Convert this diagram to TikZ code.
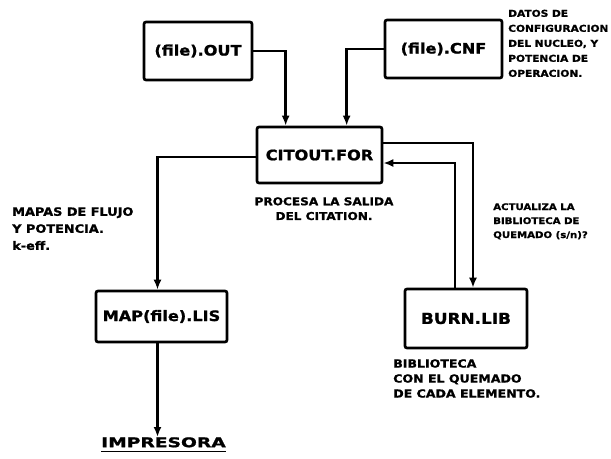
\documentclass[tikz,border=0pt]{standalone}
\usepackage{fontspec}
\setmainfont{DejaVu Sans}[FakeStretch=1.12,BoldFeatures={FakeBold=1.2}]
\usetikzlibrary{arrows.meta,calc}
\begin{document}
\begin{tikzpicture}[x=0.75pt,y=-0.75pt,
  box/.style={draw,line width=2pt,rounded corners=1.5pt,inner sep=0pt,font=\bfseries\fontsize{10.8}{13}\selectfont},
  conn/.style={line width=2pt},
  arr/.style={conn,-{Latex[length=7.5pt,width=6pt]}},
  note/.style={align=left,anchor=north west,inner sep=0pt}]
\useasboundingbox (0,0) rectangle (611,458);
% boxes
\node[box,minimum width=81pt,minimum height=43.5pt] (out) at (198,51) {(file).OUT};
\node[box,minimum width=87.75pt,minimum height=43.5pt] (cnf) at (443.5,49) {(file).CNF};
\node[box,minimum width=93.75pt,minimum height=42pt] (citout) at (319.5,155) {CITOUT.FOR};
\node[box,minimum width=98.25pt,minimum height=38.25pt] (map) at (161.5,316.5) {MAP(file).LIS};
\node[box,minimum width=91.5pt,minimum height=44.25pt,font=\bfseries\fontsize{11.3}{13}\selectfont] (burn) at (466,318.5) {BURN.LIB};
\node[anchor=north,inner sep=0pt,font=\bfseries\fontsize{10}{12}\selectfont] (imp) at (163.5,437) {\scalebox{1.25}[1]{IMPRESORA}};
\draw[line width=1.3pt] ($(imp.south west)+(0,4)$) -- ($(imp.south east)+(0,4)$);
% notes
\node[note,font=\bfseries\fontsize{7.1}{11.25}\selectfont] (datos) at (508,9.5) {DATOS DE\\CONFIGURACION\\DEL NUCLEO, Y\\POTENCIA DE\\OPERACION.};
\node[note,align=center,anchor=north,font=\bfseries\fontsize{8.1}{11}\selectfont] (procesa) at (324,197) {PROCESA LA SALIDA\\DEL CITATION.};
\node[note,font=\bfseries\fontsize{8.6}{12.75}\selectfont] (mapas) at (12,207) {MAPAS DE FLUJO\\Y POTENCIA.\\k-eff.};
\node[note,font=\bfseries\fontsize{6.8}{10.5}\selectfont] (actualiza) at (493,203) {ACTUALIZA LA\\BIBLIOTECA DE\\QUEMADO (s/n)?};
\node[note,font=\bfseries\fontsize{8.4}{11.25}\selectfont] (biblio) at (393,359) {BIBLIOTECA\\CON EL QUEMADO\\DE CADA ELEMENTO.};
% connectors
\draw[arr] (out.east) -| ($(citout.north west)+(30,0)$);
\draw[arr] (cnf.west) -| ($(citout.north west)+(91,0)$);
\draw[arr] ($(citout.west)+(0,2)$) -| ($(map.north)+(-4,0)$);
\draw[arr] ($(citout.east)+(0,-12)$) -| ($(burn.north)+(7,0)$);
\draw[arr] ($(burn.north)+(-11,0)$) |- ($(citout.east)+(0,8)$);
\coordinate (mapout) at ($(map.south)+(-4,0)$);
\draw[arr] (mapout) -- (mapout |- imp.north);
\end{tikzpicture}
\end{document}
